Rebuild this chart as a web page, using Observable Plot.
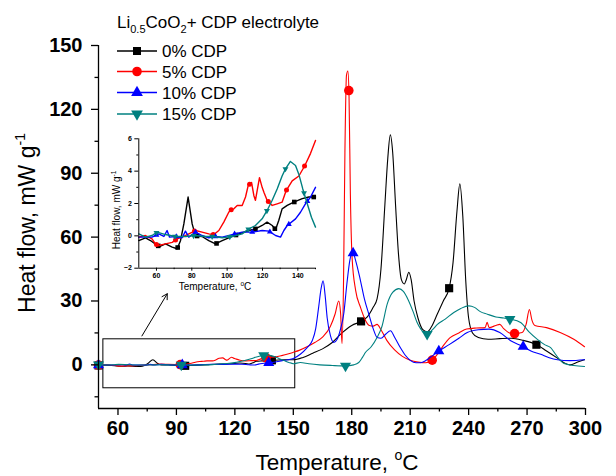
<!DOCTYPE html>
<html><head><meta charset="utf-8">
<script src="https://cdn.jsdelivr.net/npm/d3@7"></script>
<script src="https://cdn.jsdelivr.net/npm/@observablehq/plot@0.6"></script>
<style>
body{margin:0;background:#fff;}
#wrap{position:relative;width:616px;height:476px;}
#wrap svg{position:absolute;}
</style></head><body><div id="wrap"></div>
<script>
// ---------- data ----------
const seriesNames = ["0% CDP", "5% CDP", "10% CDP", "15% CDP"];
const seriesColors = ["#000000", "#ff0000", "#0000ff", "#008080"];

const xTicksMain = [60, 90, 120, 150, 180, 210, 240, 270, 300];
const xMinorMain = [75, 105, 135, 165, 195, 225, 255, 285];
const yTicksMain = [0, 30, 60, 90, 120, 150];
const yMinorMain = [-15, 15, 45, 75, 105, 135];
const xTicksInset = [60, 80, 100, 120, 140];
const xMinorInset = [70, 90, 110, 130, 150];
const yTicksInset = [-2, 0, 2, 4, 6];
const yMinorInset = [-1, 1, 3, 5];

// [temperature °C, heat flow mW/g]
const cdp0 = [
  [50,-0.29],[53.8,-0.12],[56.6,-0.29],[60.4,-0.6],[62,-0.65],[65.1,-0.5],[68.9,-0.7],[71.7,-0.8],
  [73.6,-0.3],[75.5,0.74],[77.9,2.4],[80.2,0.74],[82.1,0],[85.8,-0.04],[89.6,-0.3],[93.4,-0.5],
  [97.2,-0.3],[100.9,-0.12],[106.6,0.12],[112.3,0.33],[116,0.43],[119.8,0.64],[122.6,0.85],
  [125.5,0.64],[127.4,0.39],[129.2,0.95],[131.1,1.67],[134,1.88],[137.7,2.08],[142.5,2.3],
  [146.2,2.4],[150,2.4],[155,3.5],[160,5.5],[165,7.5],[170,10.5],[175,15],[180,18.5],[185,20.5],
  [188,22.5],[191,27],[193,31],[195,45],[197,75],[198.5,97],[199.8,108],[201,100],[202.5,75],
  [204,52],[205.5,40],[207,38],[208,40],[209.3,43.5],[210.5,40],[212,30],[214,22],[216.5,16.5],
  [218.8,15.5],[221,18],[224,24],[227,30],[230,36],[232,48],[234,72],[235.5,85],[237,70],
  [238.5,40],[240,22],[242,15],[245,12.8],[250,12],[256,12.3],[262,12.5],[268,11.5],[275,9.4],
  [280,6.5],[285,3.5],[289,1],[292,0],[296,1.3],[299.5,2.4]
];
const cdp5 = [
  [50,-0.08],[53.8,0.02],[57.5,-0.19],[59.4,-0.5],[61.3,-0.6],[65.1,-0.5],[68.9,-0.4],[71.7,-0.19],
  [74.5,-0.08],[78.3,0.12],[82.1,0.33],[85.8,0.23],[89.6,0.12],[92.5,0.08],[95.3,0.33],[98.1,0.85],
  [100.9,1.46],[102,1.6],[103.8,1.67],[105.7,1.88],[108.5,1.88],[110.4,2.4],[111.9,3.1],[113.8,3.3],
  [115.1,2.5],[116,2.2],[118.3,3.6],[119.8,3.0],[120.8,2.7],[122.6,2.2],[125.5,1.88],[128.3,1.98],
  [131.1,2.08],[133.4,2.8],[136.8,3.4],[140.6,3.7],[144,4.35],[147.2,5.1],[150,5.9],
  [153,6.8],[157,8.5],[161,10.5],[165,13],[169,18],[171.5,24],[173.3,30],[174.3,24],[175,10],
  [175.8,40],[176.5,100],[177.3,136],[178,138],[178.6,127],[179.3,80],[180.2,50],[182,35],
  [184.5,27],[187,21],[189,18.5],[191,18.2],[193,19],[195,16.5],[198,11.5],[202,7],[206,4],
  [210,2.2],[214,1.3],[218,1],[221,1.9],[224,5],[227,9],[230.5,12.8],[235,15],[239,16.8],
  [244,17.3],[248.5,17.5],[249.5,20],[250.5,17.5],[254,18.5],[256,19],[258,17],[261,15],
  [263.6,14.7],[267.5,15.2],[269.5,19],[271.2,26],[272.5,21],[274,18.5],[280,17.5],[287,15.2],
  [294,12],[299.5,8.5]
];
const cdp10 = [
  [50,-0.08],[53.8,-0.08],[57.5,-0.08],[61.3,0.12],[64.2,-0.04],[66,0.33],[67.4,-0.08],[70.8,-0.04],
  [74.5,-0.12],[76.4,0.29],[78.3,-0.08],[82.1,0.23],[85.8,0.02],[89.6,-0.12],[93.4,-0.04],
  [97.2,-0.08],[102.8,0.08],[108.5,0.23],[114.2,0.23],[119.8,0.33],[123.6,0.29],[127.4,0.02],
  [130.2,-0.08],[132.1,0.33],[134,0.64],[138.7,1.05],[141.5,1.46],[144.3,1.98],[147.2,2.4],[150,3.0],
  [153.6,5],[157,8],[159.7,11.3],[161.5,17],[163,27],[164.3,36],[165.3,39.5],[166.3,33],[167.4,22],
  [169,14],[170.8,10.5],[172.5,12],[174,16],[175.9,24],[177.5,38],[179,49],[180.5,53],[182,49],
  [184.5,39.5],[186.5,31],[188.7,24],[191,17],[193.1,12.8],[195,12.5],[197.5,14.5],[199.9,16],
  [202,13],[205,8],[207.5,4.5],[210.2,2],[213,1],[215.3,1],[218,2],[221,4],[224.7,6.5],[230,9.5],
  [235,12.5],[239.3,15.2],[245,16.5],[250.4,16.8],[256,15.2],[261.6,11.3],[267.9,8.6],[272,6.5],
  [277,5],[281,3.5],[285.6,2.4],[292,2],[299.5,2.4]
];
const cdp15 = [
  [50,0.12],[53.8,-0.08],[57.5,0.02],[60.4,0.23],[65.1,0.08],[70.8,-0.04],[76.4,-0.04],[82.1,0.02],
  [87.7,-0.04],[92.5,-0.04],[97.2,-0.12],[102.8,-0.04],[108.5,0.12],[112.3,0.43],[116,0.64],
  [119.8,1.05],[122.6,1.57],[125.5,2.2],[128.3,2.9],[131.1,3.7],[133,4.14],[135.8,4.6],[138.7,4.35],
  [140.6,3.8],[142.8,2.9],[145.3,2.0],[147.7,1.15],[150,0.54],
  [153.6,1.1],[158,0.5],[163.6,0],[170,-0.3],[176.8,-0.5],[181,0],[183.6,1.1],[185.5,3.5],[187,5.8],
  [190,8.5],[193,12.8],[195.5,18],[198.2,28.5],[201,34],[204.2,35.8],[206.5,34.5],[209,30.5],
  [211.5,25],[213.5,20],[215.3,17],[218.7,14.4],[221.5,16.5],[224,19],[228,21.5],[232.4,24.6],
  [236,26.5],[240.1,27.7],[243,27],[246,25],[249.6,23.8],[254,22.5],[258,22],[261.2,21.5],
  [266.7,19.9],[271,15.5],[275.3,12],[279,9.5],[282.1,8.1],[285,4.5],[289,0.6],[294,-0.3],[299.5,-0.8]
];
const seriesData = [cdp0, cdp5, cdp10, cdp15];

// marker temperatures (main chart / inset)
const markMain0 = [50, 94.5, 139, 184.8, 230, 274.8];
const markMain5 = [50, 92, 136, 178.5, 221.3, 263.6];
const markMain10 = [50, 93, 137.4, 180.7, 224.7, 268];
const markMain15 = [50, 92.5, 134.8, 176.8, 218.7, 261.2];
const markInset0 = [61, 72, 83, 94, 105, 116, 127, 138, 149];
const markInset5 = [60, 70.8, 81.5, 92.1, 102.3, 112.7, 123.3, 133.6, 143.8];
const markInset10 = [60, 71.2, 82.1, 93.4, 104.2, 114.2, 124.2, 134.9, 145.4];
const markInset15 = [60, 70.5, 81, 91.5, 101.5, 112, 122.5, 133, 143.5];
const markMain = [markMain0, markMain5, markMain10, markMain15];
const markInset = [markInset0, markInset5, markInset10, markInset15];

// zoom box and arrow (data units)
const zoomBox = [{x1: 52.5, x2: 151, y1: -11, y2: 12}];
const zoomArrow = [{x1: 72.3, y1: 13.6, x2: 85.3, y2: 33.4}];

// ---------- helpers ----------
const FONT = '"Liberation Sans", Arial, Helvetica, sans-serif';
const triDown = {
  draw(ctx, size) {
    const y = -Math.sqrt(size / (Math.sqrt(3) * 3));
    ctx.moveTo(0, -y * 2);
    ctx.lineTo(-Math.sqrt(3) * y, y);
    ctx.lineTo(Math.sqrt(3) * y, y);
    ctx.closePath();
  }
};
const symbols = ["square", "circle", "triangle", triDown];
const d3symbols = [d3.symbolSquare, d3.symbolCircle, d3.symbolTriangle, triDown];
const rMain = [4.6, 4.8, 4.1, 4.1];
const rInset = [2.6, 2.5, 2.2, 2.2];

function rows(pairs, lo = -Infinity, hi = Infinity) {
  return pairs.filter(d => d[0] >= lo && d[0] <= hi).map(([t, v]) => ({t, v}));
}
function interp(pairs, t) {
  const ts = pairs.map(d => d[0]);
  const i = d3.bisectLeft(ts, t);
  if (i <= 0) return pairs[0][1];
  if (i >= pairs.length) return pairs[pairs.length - 1][1];
  const [t0, v0] = pairs[i - 1], [t1, v1] = pairs[i];
  return v0 + (v1 - v0) * (t - t0) / (t1 - t0);
}
function markerRows(pairs, temps) {
  return temps.map(t => ({t, v: interp(pairs, t)}));
}

// ---------- main chart ----------
const xDomain = [50, 300];
const yDomain = [-20.5, 150];
const mainMarks = [
  Plot.rect(zoomBox, {x1: "x1", x2: "x2", y1: "y1", y2: "y2", fill: "none", stroke: "black", strokeWidth: 1}),
  Plot.arrow(zoomArrow, {x1: "x1", y1: "y1", x2: "x2", y2: "y2", stroke: "black", strokeWidth: 1, headLength: 9, bend: 0}),
];
seriesData.forEach((s, i) => {
  mainMarks.push(Plot.line(rows(s), {x: "t", y: "v", stroke: seriesColors[i], strokeWidth: 1.1, curve: "monotone-x"}));
  mainMarks.push(Plot.dot(markerRows(s, markMain[i]), {x: "t", y: "v", symbol: symbols[i], r: rMain[i], fill: seriesColors[i], stroke: "none"}));
});
mainMarks.push(
  Plot.ruleX([xDomain[0]], {stroke: "black", strokeWidth: 1.3}),
  Plot.ruleY([yDomain[0]], {stroke: "black", strokeWidth: 1.3}),
  Plot.axisX(xTicksMain, {tickSize: 7, tickPadding: 5, fontSize: 20, fontWeight: "bold", label: null, strokeWidth: 1.3}),
  Plot.axisX(xMinorMain, {tickSize: 3.5, tickFormat: () => "", label: null, strokeWidth: 1.3}),
  Plot.axisY(yTicksMain, {tickSize: 7, tickPadding: 9, fontSize: 20, fontWeight: "bold", label: null, strokeWidth: 1.3}),
  Plot.axisY(yMinorMain, {tickSize: 3.5, tickFormat: () => "", label: null, strokeWidth: 1.3})
);

const main = Plot.plot({
  width: 616, height: 476,
  marginLeft: 98, marginRight: 31, marginTop: 45, marginBottom: 68,
  x: {domain: xDomain, label: null},
  y: {domain: yDomain, label: null},
  style: {fontFamily: FONT, background: "transparent", overflow: "visible"},
  marks: mainMarks
});
main.style.left = "0px"; main.style.top = "0px";
document.getElementById("wrap").appendChild(main);

// axis titles
const ms = d3.select(main);
const xt = ms.append("text").attr("x", 337).attr("y", 470).attr("text-anchor", "middle")
  .attr("font-family", FONT).attr("font-size", 22.5).attr("fill", "black");
xt.append("tspan").text("Temperature, ");
xt.append("tspan").attr("font-size", 14).attr("dy", -10).text("o");
xt.append("tspan").attr("dy", 10).text("C");
const yt = ms.append("text").attr("transform", "translate(35,223) rotate(-90)").attr("text-anchor", "middle")
  .attr("font-family", FONT).attr("font-size", 23).attr("fill", "black");
yt.append("tspan").text("Heat flow, mW g");
yt.append("tspan").attr("font-size", 14).attr("dy", -10).text("-1");

// legend
const lg = ms.append("g").attr("font-family", FONT).attr("fill", "black").attr("text-anchor", "start");
const tt = lg.append("text").attr("x", 117).attr("y", 28).attr("font-size", 17).attr("text-anchor", "start");
tt.append("tspan").text("Li");
tt.append("tspan").attr("font-size", 11).attr("dy", 5).text("0.5");
tt.append("tspan").attr("dy", -5).text("CoO");
tt.append("tspan").attr("font-size", 11).attr("dy", 5).text("2");
tt.append("tspan").attr("dy", -5).text("+ CDP electrolyte");
const rowY = [51, 71.5, 92.5, 114];
const legendSize = [64, 72, 60, 60];
seriesNames.forEach((name, i) => {
  const y = rowY[i];
  lg.append("line").attr("x1", 117).attr("x2", 157).attr("y1", y).attr("y2", y)
    .attr("stroke", seriesColors[i]).attr("stroke-width", 1.3);
  lg.append("path").attr("d", d3.symbol(d3symbols[i], legendSize[i])())
    .attr("transform", `translate(137,${y})`).attr("fill", seriesColors[i]);
  lg.append("text").attr("x", 162).attr("y", y + 6).attr("font-size", 17)
    .attr("text-anchor", "start").text(name);
});

// ---------- inset ----------
const insetMarks = [];
seriesData.forEach((s, i) => {
  insetMarks.push(Plot.line(rows(s, 50, 150), {x: "t", y: "v", stroke: seriesColors[i], strokeWidth: 1.4}));
  insetMarks.push(Plot.dot(markerRows(s, markInset[i]), {x: "t", y: "v", symbol: symbols[i], r: rInset[i], fill: seriesColors[i], stroke: "none"}));
});
insetMarks.push(
  Plot.ruleX([50], {stroke: "black", strokeWidth: 1}),
  Plot.ruleY([-2], {stroke: "black", strokeWidth: 1}),
  Plot.axisX(xTicksInset, {tickSize: 3, tickPadding: 2, fontSize: 7, fontWeight: "bold", label: null}),
  Plot.axisX(xMinorInset, {tickSize: 1.5, tickFormat: () => "", label: null}),
  Plot.axisY(yTicksInset, {tickSize: 4, tickPadding: 3, fontSize: 7, fontWeight: "bold", label: null}),
  Plot.axisY(yMinorInset, {tickSize: 2, tickFormat: () => "", label: null})
);
const inset = Plot.plot({
  width: 225, height: 170,
  marginLeft: 38.3, marginRight: 10, marginTop: 10.3, marginBottom: 30.3,
  x: {domain: [50, 150], label: null},
  y: {domain: [-2, 6], label: null},
  style: {fontFamily: FONT, background: "transparent", overflow: "visible"},
  marks: insetMarks
});
inset.style.left = "100px"; inset.style.top = "128px";
document.getElementById("wrap").appendChild(inset);
const is = d3.select(inset);
const ixt = is.append("text").attr("x", 115).attr("y", 162).attr("text-anchor", "middle")
  .attr("font-family", FONT).attr("font-size", 10).attr("fill", "black");
ixt.append("tspan").text("Temperature, ");
ixt.append("tspan").attr("font-size", 6.5).attr("dy", -4.5).text("o");
ixt.append("tspan").attr("dy", 4.5).text("C");
const iyt = is.append("text").attr("transform", "translate(20,82) rotate(-90)").attr("text-anchor", "middle")
  .attr("font-family", FONT).attr("font-size", 10).attr("fill", "black");
iyt.append("tspan").text("Heat flow, mW g");
iyt.append("tspan").attr("font-size", 6.5).attr("dy", -4.5).text("-1");
</script></body></html>
